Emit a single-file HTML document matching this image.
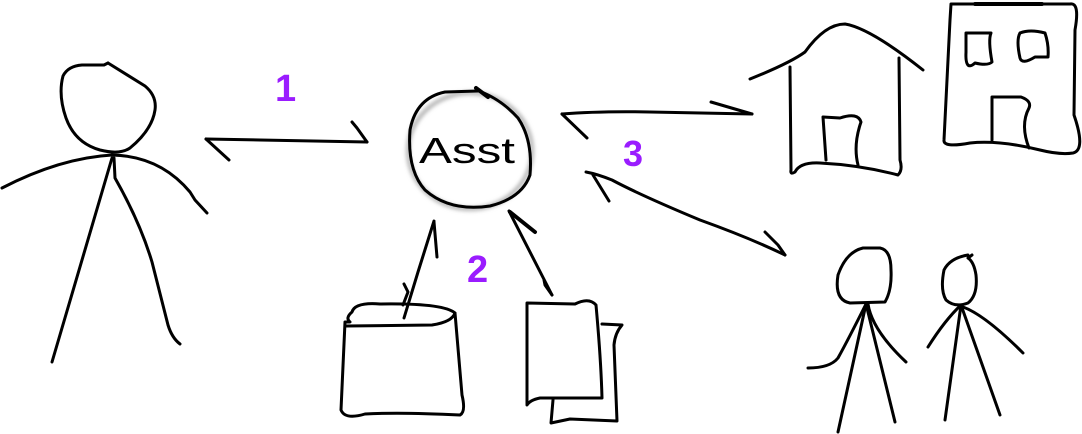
<!DOCTYPE html>
<html><head><meta charset="utf-8"><style>
html,body{margin:0;padding:0;background:#fff;}
svg{display:block}
</style></head><body>
<svg width="1082" height="434" viewBox="0 0 1082 434" xmlns="http://www.w3.org/2000/svg">
<defs><filter id="sh" x="-20%" y="-20%" width="140%" height="140%"><feGaussianBlur stdDeviation="2"/></filter></defs>
<g fill="none" stroke="#000" stroke-width="3" stroke-linecap="round" stroke-linejoin="round">
<!-- left person -->
<path d="M108,63 L145,86 Q157,96 155,110 Q152,130 130,148 Q120,155 100,150 Q75,143 66,118 Q58,95 63,76 Q68,66 82,65 L104,65 L108,63"/>
<path d="M2,188 Q60,158 112,155 Q160,156 190,192 L195,200 L207,213"/>
<path d="M112,158 L52,362"/>
<path d="M114,158 L115,178 Q140,222 152,262 L168,325 Q172,338 180,344"/>
<!-- arrow 1 -->
<path d="M206,139 L260,140 L367,142"/>
<path d="M206,139 L229,160"/>
<path d="M352,122 L357,128 L367,142"/>
<!-- circle -->
<g filter="url(#sh)" stroke="#999"><ellipse cx="470" cy="151" rx="62" ry="58"/></g>
<path d="M476,90 Q500,98 518,118 Q533,140 530,175 Q522,198 490,206 Q450,212 425,190 Q407,170 410,130 Q416,98 445,92 L478,91"/>
<path d="M476,88 L488,97" stroke-width="4"/>
<!-- arrow 2 left -->
<path d="M434,221 L418,272 L404,318"/>
<path d="M434,222 L437,257"/>
<path d="M404,284 L408,292 L403,305"/>
<!-- arrow 2 right -->
<path d="M509,211 L552,295"/>
<path d="M510,212 L535,232" stroke-width="4"/>
<path d="M544,280 L545,285 L552,295"/>
<!-- box -->
<path d="M352,312 Q345,318 350,322 L345,322 L341,410 Q345,420 365,414 Q400,412 460,415 Q466,412 462,395 L455,313 Q443,303 380,304 Q355,302 352,312 Z"/>
<path d="M346,326 L432,325 Q452,322 455,313"/>
<!-- docs -->
<path d="M527,303 L527,405 Q530,400 540,398 L602,398 Q601,360 596,305 Q589,297 575,304 L527,303"/>
<path d="M602,324 L622,325 Q615,333 614,345 L617,421 L570,419 L551,423 L553,400"/>
<!-- arrow 3 top -->
<path d="M562,114 Q600,111 650,112 L752,114"/>
<path d="M562,114 L587,138"/>
<path d="M711,102 L752,114"/>
<!-- arrow 3 lower -->
<path d="M586,172 Q597,174 612,180 Q640,195 700,220 Q750,238 785,255"/>
<path d="M593,175 L609,201"/>
<path d="M765,232 L778,245 L785,255"/>
<!-- house -->
<path d="M750,79 Q790,63 805,52 Q825,24 845,24 Q870,28 923,70"/>
<path d="M790,67 L791,170 Q790,175 795,172 Q800,162 820,163 Q860,165 898,175 Q903,170 900,160 L899,58"/>
<path d="M826,160 L823,117 L840,118 Q858,112 861,122 Q853,145 858,165"/>
<!-- building -->
<path d="M951,4 L1070,4 Q1080,2 1075,30 L1074,115 Q1086,150 1073,153 Q1060,155 1040,150 Q1000,140 970,143 Q943,148 944,140 L950,20 Z"/>
<path d="M975,4 L1042,4" stroke-width="4"/>
<path d="M966,33 L991,33 Q988,40 992,62 Q988,66 975,63 Q965,72 966,52 Z"/>
<path d="M1020,33 Q1030,29 1045,33 Q1049,45 1048,57 L1035,57 Q1022,65 1020,58 Q1016,40 1020,33"/>
<path d="M992,140 L992,97 L1021,97 Q1032,101 1029,108 Q1020,125 1029,148"/>
<!-- person A -->
<path d="M863,248 Q846,252 838,275 Q834,300 850,303 L885,302 Q892,290 891,270 Q891,250 880,248 L863,248"/>
<path d="M866,304 L838,432"/>
<path d="M866,304 L895,422"/>
<path d="M866,304 Q848,340 838,358 Q830,368 808,368"/>
<path d="M868,304 Q872,330 906,362"/>
<!-- person B -->
<path d="M968,255 Q950,258 944,270 Q940,290 946,300 Q955,308 968,303 Q978,295 976,275 Q974,262 968,258 L972,255"/>
<path d="M961,305 L945,420"/>
<path d="M961,305 L1000,415"/>
<path d="M961,305 Q945,320 928,347"/>
<path d="M963,307 Q985,315 1023,353"/>
</g>
<g font-family="'Liberation Sans',sans-serif" fill="#9a1cff" font-weight="bold">
<text x="275" y="101" font-size="38">1</text>
<text x="467" y="282" font-size="38">2</text>
<text x="623" y="166" font-size="36">3</text>
</g>
<text x="419" y="163" font-family="'Liberation Sans',sans-serif" font-size="36" textLength="96" lengthAdjust="spacingAndGlyphs" fill="#000">Asst</text>
</svg>
</body></html>
